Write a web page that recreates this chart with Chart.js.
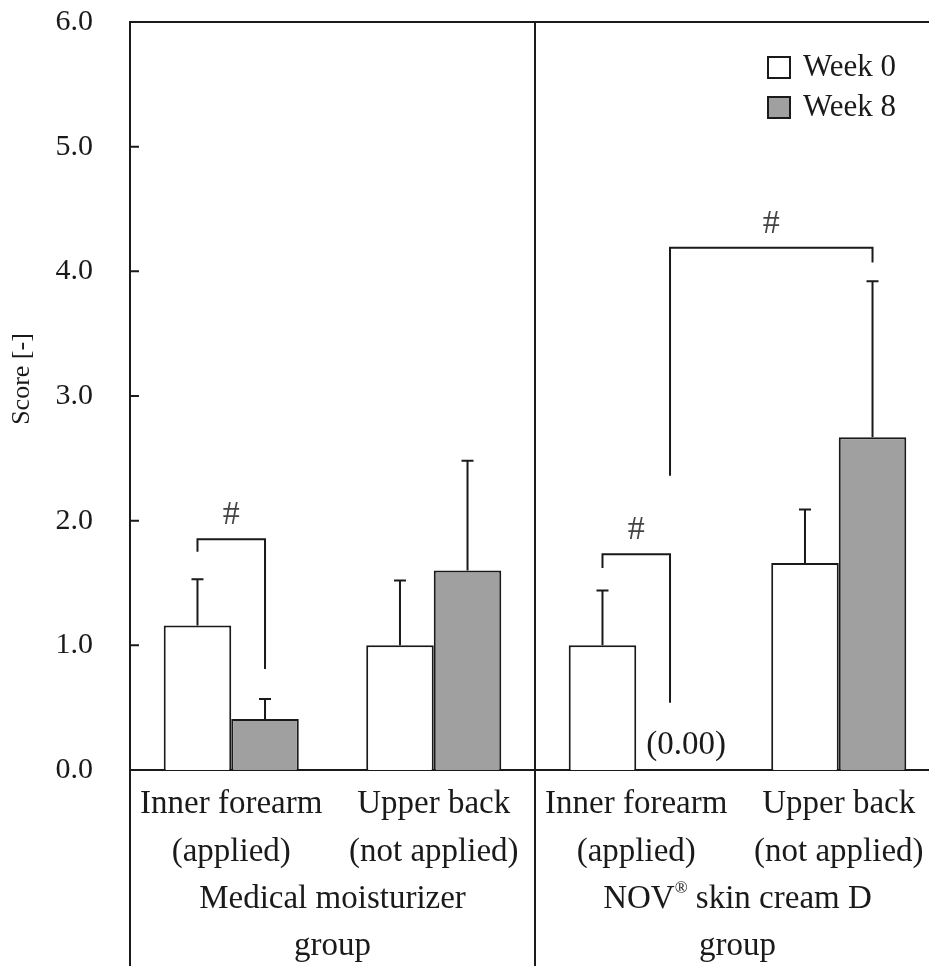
<!DOCTYPE html>
<html>
<head>
<meta charset="utf-8">
<title>Score by site and group</title>
<script src="https://cdn.jsdelivr.net/npm/chart.js@4.4.1/dist/chart.umd.min.js"></script>
<style>
  html, body { margin: 0; padding: 0; overflow: hidden; background: #fff; }
  #wrap { width: 950px; height: 966px; }
</style>
</head>
<body>
<div id="wrap"><canvas id="scoreChart"></canvas></div>
<script>
const categories = [
  ["Inner forearm", "(applied)"],
  ["Upper back", "(not applied)"],
  ["Inner forearm", "(applied)"],
  ["Upper back", "(not applied)"]
];
const groups = [["Medical moisturizer", "group"], ["NOV", "®", " skin cream D", "group"]];

const week0 = [1.16, 1.00, 1.00, 1.66];
const week0Sd = [0.37, 0.52, 0.44, 0.43];
const week8 = [0.41, 1.60, 0.00, 2.67];
const week8Sd = [0.16, 0.88, 0, 1.25];

// significance brackets: legs are [category, dataset]
const bracketFrom = [[0, 0], [2, 0], [2, 1]];
const bracketTo = [[0, 1], [2, 1], [3, 1]];
const bracketTop = [1.85, 1.73, 4.19];
const bracketLeftEnd = [1.75, 1.62, 2.36];
const bracketRightEnd = [0.81, 0.54, 4.07];

const SERIF = '"Liberation Serif", "Times New Roman", serif';
const INK = "#1a1a1a";

const extras = {
  id: "extras",
  afterDraw(chart) {
    const { ctx, chartArea: a, scales: { x, y } } = chart;
    const H = chart.height;
    const barX = (cat, ds) => chart.getDatasetMeta(ds).data[cat].x;
    ctx.save();
    ctx.strokeStyle = INK;
    ctx.lineWidth = 2;

    // frame: left axis down to the bottom, top line, divider between groups
    const divX = (x.getPixelForValue(1) + x.getPixelForValue(2)) / 2;
    ctx.beginPath();
    ctx.moveTo(a.left, H);
    ctx.lineTo(a.left, a.top);
    ctx.lineTo(a.right, a.top);
    ctx.moveTo(divX, a.top);
    ctx.lineTo(divX, H);
    // ticks point inwards
    y.ticks.forEach(t => {
      const py = y.getPixelForValue(t.value);
      ctx.moveTo(a.left, py);
      ctx.lineTo(a.left + 9, py);
    });
    ctx.stroke();

    // error bars (upper side only)
    [[week0, week0Sd], [week8, week8Sd]].forEach(([vals, sds], ds) => {
      chart.getDatasetMeta(ds).data.forEach((bar, i) => {
        if (!sds[i]) return;
        const top = y.getPixelForValue(vals[i] + sds[i]);
        ctx.beginPath();
        ctx.moveTo(bar.x, bar.y);
        ctx.lineTo(bar.x, top);
        ctx.moveTo(bar.x - 6, top);
        ctx.lineTo(bar.x + 6, top);
        ctx.stroke();
      });
    });

    // brackets with #
    bracketTop.forEach((t, i) => {
      const x1 = barX(bracketFrom[i][0], bracketFrom[i][1]);
      const x2 = barX(bracketTo[i][0], bracketTo[i][1]);
      const yt = y.getPixelForValue(t);
      ctx.beginPath();
      ctx.moveTo(x1, y.getPixelForValue(bracketLeftEnd[i]));
      ctx.lineTo(x1, yt);
      ctx.lineTo(x2, yt);
      ctx.lineTo(x2, y.getPixelForValue(bracketRightEnd[i]));
      ctx.stroke();
      ctx.fillStyle = "#444";
      ctx.font = "34px " + SERIF;
      ctx.textAlign = "center";
      ctx.textBaseline = "middle";
      ctx.fillText("#", (x1 + x2) / 2, yt - 24);
    });

    ctx.fillStyle = INK;
    ctx.textBaseline = "middle";

    // zero value label
    ctx.font = "33px " + SERIF;
    ctx.textAlign = "center";
    ctx.fillText("(0.00)", barX(2, 1) + 16, y.getPixelForValue(week8[2]) - 25);

    // legend
    const lx = a.right - 172;
    [["Week 0", "#ffffff"], ["Week 8", "#a0a0a0"]].forEach(([txt, col], i) => {
      const by = a.top + 35 + i * 40;
      ctx.fillStyle = col;
      ctx.fillRect(lx, by, 22, 21);
      ctx.strokeRect(lx, by, 22, 21);
      ctx.fillStyle = INK;
      ctx.font = "31px " + SERIF;
      ctx.textAlign = "left";
      ctx.fillText(txt, lx + 35, by + 11);
    });

    // group labels
    ctx.font = "33px " + SERIF;
    ctx.textAlign = "center";
    const g1 = (x.getPixelForValue(0) + x.getPixelForValue(1)) / 2;
    const g2 = (x.getPixelForValue(2) + x.getPixelForValue(3)) / 2;
    const row1 = a.bottom + 129, row2 = a.bottom + 176;
    ctx.fillText(groups[0][0], g1, row1);
    ctx.fillText(groups[0][1], g1, row2);
    // NOV with superscript ®
    const [p1, sup, p2, last] = groups[1];
    const w1 = ctx.measureText(p1).width;
    const w3 = ctx.measureText(p2).width;
    ctx.font = "17px " + SERIF;
    const w2 = ctx.measureText(sup).width;
    let sx = g2 - (w1 + w2 + w3) / 2;
    ctx.textAlign = "left";
    ctx.font = "33px " + SERIF;
    ctx.fillText(p1, sx, row1);
    ctx.font = "17px " + SERIF;
    ctx.fillText(sup, sx + w1, row1 - 10);
    ctx.font = "33px " + SERIF;
    ctx.fillText(p2, sx + w1 + w2, row1);
    ctx.textAlign = "center";
    ctx.fillText(last, g2, row2);

    // y title
    ctx.save();
    ctx.translate(22, 379);
    ctx.rotate(-Math.PI / 2);
    ctx.font = "26px " + SERIF;
    ctx.textAlign = "center";
    ctx.fillText("Score [-]", 0, 0);
    ctx.restore();

    ctx.restore();
  }
};

new Chart(document.getElementById("scoreChart"), {
  type: "bar",
  data: {
    labels: categories,
    datasets: [
      { label: "Week 0", data: week0, backgroundColor: "#ffffff", borderColor: INK, borderWidth: 2 },
      { label: "Week 8", data: week8, backgroundColor: "#a0a0a0", borderColor: INK, borderWidth: 2 }
    ]
  },
  options: {
    responsive: true,
    maintainAspectRatio: false,
    animation: false,
    layout: { padding: { top: 22, right: 10, left: 0, bottom: 0 } },
    datasets: { bar: { categoryPercentage: 0.667, barPercentage: 1 } },
    plugins: { legend: { display: false }, tooltip: { enabled: false } },
    scales: {
      x: {
        grid: { display: false, drawTicks: false },
        border: { display: true, color: INK, width: 2 },
        ticks: {
          color: INK,
          font: { family: SERIF, size: 33, lineHeight: 1.44 },
          padding: 11,
          maxRotation: 0,
          autoSkip: false
        },
        afterFit(s) { s.height = 196; s.paddingLeft = 0; s.paddingRight = 0; }
      },
      y: {
        min: 0,
        max: 6,
        grid: { display: false, drawTicks: false },
        border: { display: false },
        ticks: {
          stepSize: 1,
          color: INK,
          font: { family: SERIF, size: 30 },
          padding: 37,
          callback: v => v.toFixed(1)
        },
        afterFit(s) { s.width = 130; s.paddingTop = 0; s.paddingBottom = 0; }
      }
    }
  },
  plugins: [extras]
});
</script>
</body>
</html>
